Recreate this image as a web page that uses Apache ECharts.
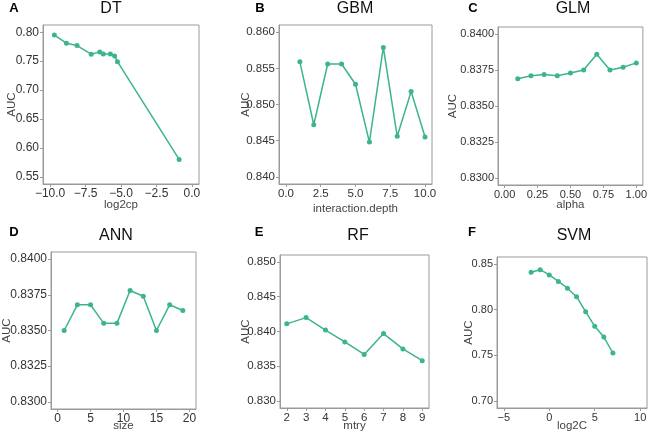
<!DOCTYPE html>
<html><head><meta charset="utf-8">
<script src="https://cdn.jsdelivr.net/npm/echarts@6/dist/echarts.min.js"></script>
<style>html,body{margin:0;padding:0;background:#fff}#c{width:650px;height:433px}</style>
</head><body><div id="c"></div><script>
// ---- data ----
const dtX  = [-9.7, -8.85, -8.1, -7.1, -6.5, -6.25, -5.75, -5.45, -5.25, -0.9];
const dtY  = [0.795, 0.781, 0.777, 0.762, 0.766, 0.7625, 0.7625, 0.759, 0.749, 0.580];
const gbmX = [1, 2, 3, 4, 5, 6, 7, 8, 9, 10];
const gbmY = [0.8559, 0.8472, 0.8556, 0.8556, 0.8528, 0.8448, 0.8579, 0.8456, 0.8518, 0.8455];
const glmX = [0.1, 0.2, 0.3, 0.4, 0.5, 0.6, 0.7, 0.8, 0.9, 1.0];
const glmY = [0.8369, 0.8371, 0.8372, 0.8371, 0.8373, 0.8375, 0.8386, 0.8375, 0.8377, 0.8380];
const annX = [1, 3, 5, 7, 9, 11, 13, 15, 17, 19];
const annY = [0.8350, 0.8368, 0.8368, 0.8355, 0.8355, 0.8378, 0.8374, 0.8350, 0.8368, 0.8364];
const rfX  = [2, 3, 4, 5, 6, 7, 8, 9];
const rfY  = [0.8411, 0.8420, 0.8402, 0.8385, 0.8367, 0.8397, 0.8375, 0.8358];
const svmX = [-2, -1, 0, 1, 2, 3, 4, 5, 6, 7];
const svmY = [0.8408, 0.8436, 0.8379, 0.8308, 0.8234, 0.8141, 0.7977, 0.7818, 0.7700, 0.7526];

const titles  = ['DT', 'GBM', 'GLM', 'ANN', 'RF', 'SVM'];
const letters = ['A', 'B', 'C', 'D', 'E', 'F'];
const xNames  = ['log2cp', 'interaction.depth', 'alpha', 'size', 'mtry', 'log2C'];

const xTicks = [
  [-10, -7.5, -5, -2.5, 0],
  [0, 2.5, 5, 7.5, 10],
  [0, 0.25, 0.5, 0.75, 1],
  [0, 5, 10, 15, 20],
  [2, 3, 4, 5, 6, 7, 8, 9],
  [-5, 0, 5, 10]
];
const yTicks = [
  [0.55, 0.60, 0.65, 0.70, 0.75, 0.80],
  [0.840, 0.845, 0.850, 0.855, 0.860],
  [0.8300, 0.8325, 0.8350, 0.8375, 0.8400],
  [0.8300, 0.8325, 0.8350, 0.8375, 0.8400],
  [0.830, 0.835, 0.840, 0.845, 0.850],
  [0.70, 0.75, 0.80, 0.85]
];
const xRange = [[-10.5, 0.5], [-0.5, 10.5], [-0.05, 1.05], [-1, 21], [1.65, 9.35], [-5.75, 10.75]];
const yRange = [[0.5375, 0.8125], [0.839, 0.861], [0.8295, 0.8405], [0.8295, 0.8405], [0.829, 0.851], [0.6925, 0.8575]];
const xDec = [1, 1, 2, 0, 0, 0];
const yDec = [2, 3, 4, 4, 3, 2];

const xs = [dtX, gbmX, glmX, annX, rfX, svmX];
const ys = [dtY, gbmY, glmY, annY, rfY, svmY];

// ---- layout ----
const grids = [
  {left: 43,  top: 25,  width: 156, height: 159},
  {left: 279, top: 25,  width: 153, height: 159},
  {left: 498, top: 27,  width: 148, height: 158},
  {left: 44,  top: 252, width: 152, height: 160},
  {left: 280, top: 255, width: 149, height: 156},
  {left: 497, top: 257, width: 150, height: 154}
];
const titlePos  = [[111, 9], [355, 9], [573, 9], [116, 236], [358, 236], [574, 236]];
const letterPos = [[14, 8], [260, 8], [473, 8], [14, 232], [259, 232], [472, 232]];
const labelSize = [12, 11.5, 11, 12, 11.5, 11];
const yNameGap  = [25, 27, 39, 38, 28, 22];
const xNameGap  = [15, 19, 14, 11, 12, 12];

const C = '#3cb589';
const FF = 'Liberation Sans, Arial, sans-serif';
const fmt = (v, d) => v.toFixed(d).replace('-', '\u2212');

const option = {
  animation: false,
  backgroundColor: '#fff',
  textStyle: {fontFamily: FF},
  title: [],
  grid: [], xAxis: [], yAxis: [], series: []
};
for (let i = 0; i < 6; i++) {
  option.grid.push(Object.assign({show: true, borderColor: '#9a9a9a', borderWidth: 1, backgroundColor: '#fff', containLabel: false}, grids[i]));
  option.title.push({text: titles[i], left: titlePos[i][0], top: titlePos[i][1], textAlign: 'center', textVerticalAlign: 'middle',
    padding: 0, textStyle: {fontSize: 16, fontWeight: 'normal', color: '#111', fontFamily: FF}});
  option.title.push({text: letters[i], left: letterPos[i][0], top: letterPos[i][1], textAlign: 'center', textVerticalAlign: 'middle',
    padding: 0, textStyle: {fontSize: 13, fontWeight: 'bold', color: '#000', fontFamily: FF}});
  const d = xDec[i], e = yDec[i];
  option.xAxis.push({
    type: 'value', gridIndex: i, min: xRange[i][0], max: xRange[i][1],
    name: xNames[i], nameLocation: 'middle', nameGap: xNameGap[i], nameMoveOverlap: false,
    nameTextStyle: {fontSize: 11.5, color: '#444'},
    axisLine: {show: true, onZero: false, lineStyle: {color: '#9a9a9a'}},
    axisTick: {show: true, length: 3, lineStyle: {color: '#9a9a9a'}, customValues: xTicks[i]},
    axisLabel: {customValues: xTicks[i], formatter: v => fmt(v, d), fontSize: labelSize[i], color: '#333', margin: 4},
    splitLine: {show: false}
  });
  option.yAxis.push({
    type: 'value', gridIndex: i, min: yRange[i][0], max: yRange[i][1],
    name: 'AUC', nameLocation: 'middle', nameGap: yNameGap[i], nameMoveOverlap: false,
    nameTextStyle: {fontSize: 11.5, color: '#444'},
    axisLine: {show: true, onZero: false, lineStyle: {color: '#9a9a9a'}},
    axisTick: {show: true, length: 3, lineStyle: {color: '#9a9a9a'}, customValues: yTicks[i]},
    axisLabel: {customValues: yTicks[i], formatter: v => fmt(v, e), fontSize: labelSize[i], color: '#333', margin: 4},
    splitLine: {show: false}
  });
  option.series.push({
    type: 'line', xAxisIndex: i, yAxisIndex: i,
    data: xs[i].map((x, k) => [x, ys[i][k]]),
    symbol: 'circle', symbolSize: 5, showSymbol: true,
    lineStyle: {color: C, width: 1.5}, itemStyle: {color: C}
  });
}
const chart = echarts.init(document.getElementById('c'), null, {renderer: 'canvas'});
chart.setOption(option);
</script></body></html>
